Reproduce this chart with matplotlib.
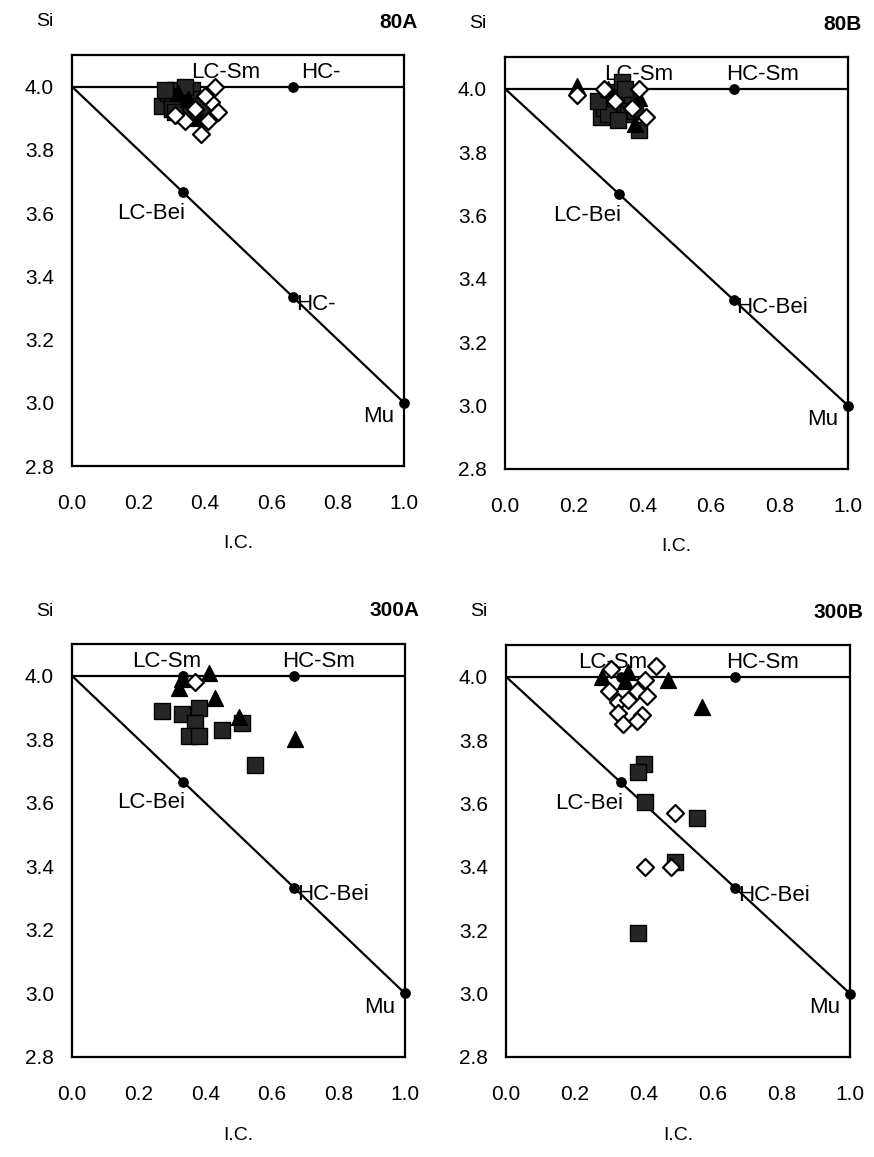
import matplotlib.pyplot as plt

plt.rcParams['font.family'] = ['Liberation Sans', 'DejaVu Sans']

# end members on the diagram (I.C., Si)
ref_x = [0.333, 0.667, 0.333, 0.667, 1.0]
ref_y = [4.0, 4.0, 3.667, 3.333, 3.0]

# ---- 80A ----
sq_80a_x = [0.27, 0.29, 0.30, 0.31, 0.32, 0.33, 0.34, 0.35, 0.36, 0.37, 0.33, 0.30, 0.28, 0.36, 0.38, 0.39, 0.34, 0.31]
sq_80a_y = [3.94, 3.98, 3.96, 3.99, 3.95, 3.97, 3.93, 3.98, 3.95, 3.92, 3.91, 3.93, 3.99, 3.99, 3.96, 3.94, 4.00, 3.92]
tri_80a_x = [0.35, 0.38, 0.32]
tri_80a_y = [3.96, 3.90, 3.98]
dia_80a_x = [0.43, 0.42, 0.44, 0.41, 0.39, 0.34, 0.31, 0.40, 0.37]
dia_80a_y = [4.00, 3.95, 3.92, 3.89, 3.85, 3.89, 3.91, 3.97, 3.93]

# ---- 80B ----
sq_80b_x = [0.28, 0.29, 0.30, 0.31, 0.32, 0.33, 0.34, 0.35, 0.36, 0.37, 0.30, 0.33, 0.38, 0.39, 0.27, 0.35]
sq_80b_y = [3.91, 3.94, 3.97, 3.99, 3.93, 3.96, 4.02, 3.95, 3.92, 3.98, 3.92, 3.90, 3.93, 3.87, 3.96, 4.00]
tri_80b_x = [0.21, 0.39, 0.30, 0.38]
tri_80b_y = [4.01, 3.97, 4.00, 3.89]
dia_80b_x = [0.21, 0.29, 0.39, 0.41, 0.37, 0.32]
dia_80b_y = [3.98, 4.00, 4.00, 3.91, 3.94, 3.96]

# ---- 300A ----
sq_300a_x = [0.27, 0.33, 0.38, 0.37, 0.35, 0.38, 0.45, 0.51, 0.55]
sq_300a_y = [3.89, 3.88, 3.90, 3.85, 3.81, 3.81, 3.83, 3.85, 3.72]
tri_300a_x = [0.33, 0.32, 0.41, 0.43, 0.50, 0.67]
tri_300a_y = [3.99, 3.96, 4.01, 3.93, 3.87, 3.80]
dia_300a_x = [0.37]
dia_300a_y = [3.98]

# ---- 300B ----
sq_300b_x = [0.40, 0.385, 0.405, 0.555, 0.49, 0.385]
sq_300b_y = [3.725, 3.70, 3.605, 3.555, 3.415, 3.19]
tri_300b_x = [0.28, 0.355, 0.345, 0.47, 0.57]
tri_300b_y = [4.00, 4.015, 3.985, 3.99, 3.905]
dia_300b_x = [0.305, 0.435, 0.405, 0.30, 0.38, 0.41, 0.325, 0.355, 0.325, 0.395, 0.34, 0.38, 0.49, 0.405, 0.48]
dia_300b_y = [4.025, 4.035, 3.99, 3.955, 3.955, 3.94, 3.92, 3.925, 3.885, 3.88, 3.85, 3.86, 3.57, 3.40, 3.40]

panels = [
    # name, rect (px: left, right, top, bottom), data, labels, x of LC-Sm / HC-Sm text
    ('80A', (72, 404, 55, 466), (sq_80a_x, sq_80a_y, tri_80a_x, tri_80a_y, dia_80a_x, dia_80a_y),
     ('LC-Sm', 'HC-', 'LC-Bei', 'HC-', 'Mu'), (0.36, 0.69)),
    ('80B', (505, 848, 57, 469), (sq_80b_x, sq_80b_y, tri_80b_x, tri_80b_y, dia_80b_x, dia_80b_y),
     ('LC-Sm', 'HC-Sm', 'LC-Bei', 'HC-Bei', 'Mu'), (0.29, 0.645)),
    ('300A', (72, 405, 644, 1057), (sq_300a_x, sq_300a_y, tri_300a_x, tri_300a_y, dia_300a_x, dia_300a_y),
     ('LC-Sm', 'HC-Sm', 'LC-Bei', 'HC-Bei', 'Mu'), (0.18, 0.63)),
    ('300B', (506, 850, 645, 1057), (sq_300b_x, sq_300b_y, tri_300b_x, tri_300b_y, dia_300b_x, dia_300b_y),
     ('LC-Sm', 'HC-Sm', 'LC-Bei', 'HC-Bei', 'Mu'), (0.21, 0.64)),
]

W, H = 874, 1157
FS = 16
fig = plt.figure(figsize=(W / 100, H / 100), dpi=100)

for name, (l, r, t, b), d, labs, (lcx, hcx) in panels:
    ax = fig.add_axes([l / W, 1 - b / H, (r - l) / W, (b - t) / H])
    ax.set_xlim(0, 1.0)
    ax.set_ylim(2.8, 4.1)
    ax.set_xticks([0.0, 0.2, 0.4, 0.6, 0.8, 1.0])
    ax.set_yticks([2.8, 3.0, 3.2, 3.4, 3.6, 3.8, 4.0])
    ax.set_xticklabels(['0.0', '0.2', '0.4', '0.6', '0.8', '1.0'])
    ax.set_yticklabels(['2.8', '3.0', '3.2', '3.4', '3.6', '3.8', '4.0'])
    ax.tick_params(length=0, labelsize=15, pad=13)
    ax.tick_params(axis='x', pad=20)
    for s in ax.spines.values():
        s.set_linewidth(1.6)

    # composition lines
    ax.plot([0, 1], [4.0, 4.0], color='black', lw=1.6, zorder=2)
    ax.plot([0, 1], [4.0, 3.0], color='black', lw=1.6, zorder=2)
    ax.scatter(ref_x, ref_y, s=45, color='black', zorder=3, clip_on=False)

    sx, sy, tx, ty, dx, dy = d
    ax.scatter(sx, sy, marker='s', s=120, facecolor='#262626', edgecolor='black', lw=1, zorder=4)
    ax.scatter(tx, ty, marker='^', s=130, facecolor='black', edgecolor='black', zorder=5)
    ax.scatter(dx, dy, marker='D', s=75, facecolor='white', edgecolor='black', lw=1.6, zorder=6)

    ax.text(lcx, 4.045, labs[0], fontsize=FS, ha='left', va='center', zorder=1)
    ax.text(hcx, 4.045, labs[1], fontsize=FS, ha='left', va='center', zorder=1)
    ax.text(0.34, 3.60, labs[2], fontsize=FS, ha='right', va='center', zorder=1)
    ax.text(0.675, 3.31, labs[3], fontsize=FS, ha='left', va='center', zorder=1)
    ax.text(0.97, 2.955, labs[4], fontsize=FS, ha='right', va='center', zorder=1)

    fig.text((l - 36) / W, 1 - (t - 33) / H, 'Si', fontsize=14, ha='left', va='center')
    fig.text((r + 14) / W, 1 - (t - 33) / H, name, fontsize=15, fontweight='bold', ha='right', va='center')
    fig.text((l + r) / 2 / W, 1 - (b + 78) / H, 'I.C.', fontsize=14, ha='center', va='center')

plt.savefig('out.png', dpi=100)
